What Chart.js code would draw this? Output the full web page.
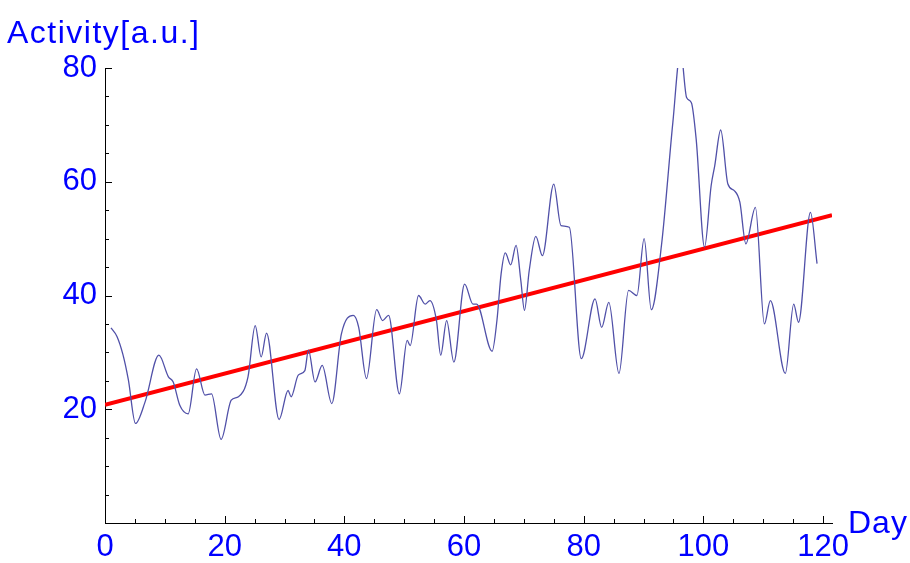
<!DOCTYPE html>
<html>
<head>
<meta charset="utf-8">
<script src="https://cdn.jsdelivr.net/npm/chart.js@4"></script>
<style>
  html, body { margin: 0; padding: 0; background: #fff; }
  #wrap { width: 910px; height: 563px; }
</style>
</head>
<body>
<div id="wrap"><canvas id="chart" width="910" height="563"></canvas></div>
<script>
// activity curve (day, value) at turning points
const days = [
  1.0, 2.0, 3.0, 3.9, 5.1, 6.7, 9.0, 10.6, 11.4, 12.5, 13.9, 15.3, 16.7, 17.8, 19.4,
  21.1, 22.3, 23.9, 25.1, 26.1, 27.0, 29.1, 30.6, 31.1, 32.3, 33.4, 34.0, 35.1,
  36.3, 37.9, 39.5, 41.5, 42.4, 43.7, 45.4, 46.4, 47.4, 49.2, 50.5, 51.0, 52.4,
  53.5, 54.3, 55.4, 56.1, 57.1, 58.3, 60.1, 61.5, 62.1, 64.7, 65.5, 66.2, 66.9,
  67.8, 68.7, 69.5, 70.1, 70.9, 72.0, 73.1, 75.0, 76.2, 77.6, 79.6, 81.9, 83.0,
  84.2, 85.9, 87.5, 88.9, 90.1, 91.3, 93.0, 94.9, 96.2, 97.2, 98.0, 98.8, 100.2,
  101.3, 101.9, 102.9, 104.1, 105.2, 106.1, 107.1, 108.7, 110.2, 111.2, 113.7,
  115.1, 115.9, 117.9, 119.0
];
const activity = [
  34.3, 32.8, 29.6, 25.2, 17.5, 21.3, 29.5, 25.7, 24.8, 20.7, 19.2, 27.1, 22.5, 22.7, 14.7,
  21.6, 22.2, 25.7, 34.7, 29.2, 33.4, 18.2, 23.3, 22.2, 26.0, 26.8, 30.4, 24.8,
  27.7, 21.0, 33.2, 36.5, 34.4, 25.4, 37.5, 35.6, 36.5, 22.7, 32.1, 31.2, 40.0,
  38.5, 39.1, 35.6, 29.5, 35.6, 28.3, 42.0, 38.5, 38.5, 30.2, 35.6, 43.8, 47.5,
  45.4, 48.8, 42.6, 37.4, 44.4, 50.4, 47.0, 59.6, 52.3, 52.0, 28.9, 39.4, 34.4,
  38.8, 26.3, 40.9, 40.0, 50.0, 37.5, 48.8, 70.4, 83.0, 74.8, 73.9, 67.5, 48.5,
  59.3, 62.8, 69.1, 59.6, 58.4, 56.4, 49.1, 55.5, 35.0, 39.1, 26.3,
  38.5, 35.3, 54.6, 45.6
];
// linear fit (red line) end points
const fitDays = [0, 121.5];
const fitValues = [20.8, 54.1];

const xTickLabels = [0, 20, 40, 60, 80, 100, 120];
const yTickLabels = [20, 40, 60, 80];

const blue = "#0000ff";
const fontFamily = "'Liberation Sans', Arial, sans-serif";

// small inward tick marks + axis titles
const axisExtras = {
  id: "axisExtras",
  afterDraw(chart) {
    const { ctx, chartArea, scales } = chart;
    const x = scales.x, y = scales.y;
    ctx.save();
    ctx.strokeStyle = "#000";
    ctx.lineWidth = 1;
    ctx.beginPath();
    for (let v = 5; v <= 120; v += 5) {
      const px = Math.round(x.getPixelForValue(v)) + 0.5;
      ctx.moveTo(px, chartArea.bottom);
      ctx.lineTo(px, chartArea.bottom - (v % 20 === 0 ? 7 : 4));
    }
    for (let v = 5; v <= 80; v += 5) {
      const py = Math.round(y.getPixelForValue(v)) + 0.5;
      ctx.moveTo(chartArea.left, py);
      ctx.lineTo(chartArea.left + (v % 20 === 0 ? 7 : 4), py);
    }
    ctx.stroke();

    ctx.fillStyle = blue;
    ctx.textBaseline = "alphabetic";
    ctx.textAlign = "left";
    ctx.font = "32px " + fontFamily;
    ctx.letterSpacing = "1.5px";
    ctx.fillText("Activity[a.u.]", 7, 43);
    ctx.letterSpacing = "1px";
    ctx.fillText("Day", 848, 533);
    ctx.restore();
  },
};

new Chart(document.getElementById("chart"), {
  type: "line",
  data: {
    datasets: [
      {
        label: "Activity",
        data: days.map((d, i) => ({ x: d, y: activity[i] })),
        borderColor: "#5050a8",
        borderWidth: 1.3,
        pointRadius: 0,
        cubicInterpolationMode: "monotone",
        fill: false,
      },
      {
        label: "Fit",
        data: fitDays.map((d, i) => ({ x: d, y: fitValues[i] })),
        borderColor: "#ff0000",
        borderWidth: 4,
        pointRadius: 0,
        fill: false,
      },
    ],
  },
  options: {
    responsive: false,
    animation: false,
    layout: { padding: { top: 68, right: 78, left: 0, bottom: 0 } },
    plugins: {
      legend: { display: false },
      tooltip: { enabled: false },
    },
    scales: {
      x: {
        type: "linear",
        min: 0,
        max: 121.5,
        grid: { display: false, drawTicks: false },
        border: { display: true, color: "#000", width: 1 },
        afterBuildTicks: (scale) => {
          scale.ticks = xTickLabels.map((v) => ({ value: v }));
        },
        afterFit: (scale) => {
          scale.height = 40;
        },
        ticks: {
          color: blue,
          padding: 6,
          maxRotation: 0,
          font: { size: 31, family: fontFamily },
        },
      },
      y: {
        min: 0,
        max: 80,
        grid: { display: false, drawTicks: false },
        border: { display: true, color: "#000", width: 1 },
        afterBuildTicks: (scale) => {
          scale.ticks = yTickLabels.map((v) => ({ value: v }));
        },
        afterFit: (scale) => {
          scale.width = 105;
        },
        ticks: {
          color: blue,
          padding: 8,
          font: { size: 31, family: fontFamily },
        },
      },
    },
  },
  plugins: [axisExtras],
});
</script>
</body>
</html>
